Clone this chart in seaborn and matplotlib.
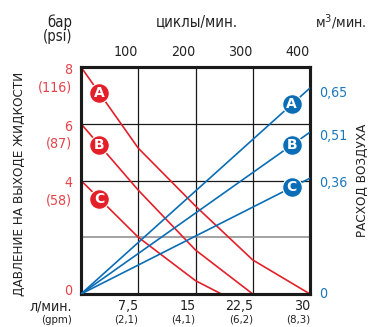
import numpy as np
import pandas as pd
import matplotlib
matplotlib.use("Agg")
import matplotlib.pyplot as plt
import matplotlib.transforms as mtransforms
from matplotlib import font_manager as fm
import seaborn as sns

# ---------------- data ----------------
flow_ticks = [7.5, 15, 22.5, 30]
flow_labels = ["7,5", "15", "22,5", "30"]
gpm_labels = ["(2,1)", "(4,1)", "(6,2)", "(8,3)"]
cycle_labels = ["100", "200", "300", "400"]

pump_names = ["A", "B", "C"]
flow_A = [0, 7.5, 15, 22.5, 30]
press_A = [8, 5.14, 3.1, 1.2, 0]
flow_B = [0, 7.5, 15, 22.5]
press_B = [6, 3.66, 1.55, 0]
flow_C = [0, 7.5, 15, 18.4]
press_C = [4, 2.0, 0.47, 0]

air_flow = [0, 30]
air_A = [0, 0.667]
air_B = [0, 0.524]
air_C = [0, 0.375]

press_ticks = [8, 6, 4]
press_tick_labels = ["8\n(116)", "6\n(87)", "4\n(58)"]
air_ticks = [0.65, 0.51, 0.36, 0]
air_tick_labels = ["0,65", "0,51", "0,36", "0"]

# ---------------- style ----------------
sns.set_style("white")
plt.rcParams["font.family"] = ["DejaVu Sans"]


def pick_condensed():
    files = fm.findSystemFonts()
    prefs = ["LiberationSansNarrow-Regular", "DejaVuSansCondensed.ttf",
             "OpenSans_Condensed", "OpenSansCondensed", "RobotoCondensed-Regular",
             "Roboto_Condensed", "NotoSans-Condensed.ttf", "NotoSansCondensed"]
    for p in prefs:
        for f in files:
            base = f.split("/")[-1]
            if p.lower() in base.lower() and "bold" not in base.lower() \
                    and "italic" not in base.lower() and "oblique" not in base.lower():
                return fm.FontProperties(fname=f), True
    return fm.FontProperties(family="DejaVu Sans"), False


FP, CONDENSED = pick_condensed()
FS = 10.2 if CONDENSED else 8.6


def T(size=None):
    p = FP.copy()
    p.set_size(FS if size is None else size)
    return p


RED = "#e3202a"
RED_T = "#e5424a"
BLUE = "#0a6db5"
BLUE_T = "#1b78bd"
TXT = "#222222"

fig = plt.figure(figsize=(3.69, 3.27), dpi=100)
ax = fig.add_axes([81 / 369, 33 / 327, 229 / 369, 227 / 327])
ax2 = ax.twinx()

red_df = pd.concat([
    pd.DataFrame({"flow": flow_A, "p": press_A, "pump": "A"}),
    pd.DataFrame({"flow": flow_B, "p": press_B, "pump": "B"}),
    pd.DataFrame({"flow": flow_C, "p": press_C, "pump": "C"}),
])
blue_df = pd.concat([
    pd.DataFrame({"flow": air_flow, "q": air_A, "pump": "A"}),
    pd.DataFrame({"flow": air_flow, "q": air_B, "pump": "B"}),
    pd.DataFrame({"flow": air_flow, "q": air_C, "pump": "C"}),
])

ax.set_xlim(0, 30)
ax.set_ylim(0, 8)
ax2.set_ylim(0, 0.735)

# grid
for x in [7.5, 15, 22.5]:
    ax.axvline(x, color="#1a1a1a", lw=0.9, zorder=1)
for y in [4, 6]:
    ax.axhline(y, color="#1a1a1a", lw=0.9, zorder=1)
ax.axhline(2, color="#8a8a8a", lw=1.1, zorder=1)

sns.lineplot(data=red_df, x="flow", y="p", units="pump", estimator=None,
             color=RED, lw=1.2, ax=ax, sort=False, zorder=3)
sns.lineplot(data=blue_df, x="flow", y="q", units="pump", estimator=None,
             color=BLUE, lw=1.2, ax=ax2, sort=False, zorder=3)

ax.set_xlabel("")
ax.set_ylabel("")
ax2.set_ylabel("")
ax.set_xticks([])
ax.set_yticks([])
ax2.set_yticks([])

for a in (ax, ax2):
    for s in a.spines.values():
        s.set_visible(True)
        s.set_color("#1a1a1a")
        s.set_linewidth(2.2)

# markers on red curves
red_sets = [(flow_A, press_A), (flow_B, press_B), (flow_C, press_C)]
for name, (fx, py) in zip(pump_names, red_sets):
    mx = 2.4
    my = np.interp(mx, fx, py)
    ax.scatter([mx], [my], s=200, color=RED, edgecolor="white", lw=0.8,
               zorder=5, clip_on=False)
    ax.text(mx, my, name, color="white", fontsize=10, fontweight="bold",
            ha="center", va="center", zorder=6, family="DejaVu Sans")

# markers on blue lines
for name, qy in zip(pump_names, [air_A, air_B, air_C]):
    mx = 27.6
    my = np.interp(mx, air_flow, qy)
    ax2.scatter([mx], [my], s=200, color=BLUE, edgecolor="white", lw=0.8,
                zorder=5, clip_on=False)
    ax2.text(mx, my, name, color="white", fontsize=10, fontweight="bold",
             ha="center", va="center", zorder=6, family="DejaVu Sans")

# left pressure labels
tr_left = mtransforms.blended_transform_factory(fig.transFigure, ax.transData)
for v, lab in zip(press_ticks, press_tick_labels):
    ax.annotate(lab, xy=(72 / 369, v), xycoords=tr_left, xytext=(0, 3),
                textcoords="offset points", ha="right", va="top",
                color=RED_T, fontproperties=T(), linespacing=1.3,
                annotation_clip=False)
ax.text(72 / 369, 0.1, "0", transform=tr_left, ha="right", va="center",
        color=RED_T, fontproperties=T())

# right air labels
tr_right = mtransforms.blended_transform_factory(fig.transFigure, ax2.transData)
for v, lab in zip(air_ticks, air_tick_labels):
    ax2.text(319 / 369, v, lab, transform=tr_right, ha="left", va="center",
             color=BLUE_T, fontproperties=T())

# bottom labels
tr_bot = mtransforms.blended_transform_factory(ax.transData, fig.transFigure)
row1 = 1 - 306 / 327
row2 = 1 - 320 / 327
for v, l1, l2 in zip(flow_ticks, flow_labels, gpm_labels):
    fig.text(v, row1, l1, transform=tr_bot, ha="right", va="center",
             color=TXT, fontproperties=T())
    fig.text(v, row2, l2, transform=tr_bot, ha="right", va="center",
             color=TXT, fontproperties=T(size=FS - 2))
fig.text(72 / 369, row1, "л/мин.", ha="right", va="center",
         color=TXT, fontproperties=T())
fig.text(72 / 369, row2, "(gpm)", ha="right", va="center",
         color=TXT, fontproperties=T(size=FS - 2))

# top labels
for v, lab in zip(flow_ticks, cycle_labels):
    fig.text(v, 1 - 52 / 327, lab, transform=tr_bot, ha="right", va="center",
             color=TXT, fontproperties=T())
fig.text(197 / 369, 1 - 22 / 327, "циклы/мин.", ha="center", va="center",
         color=TXT, fontproperties=T(size=FS + 0.5))
fig.text(72 / 369, 1 - 22 / 327, "бар", ha="right", va="center",
         color=TXT, fontproperties=T(size=FS + 0.5))
fig.text(72 / 369, 1 - 37 / 327, "(psi)", ha="right", va="center",
         color=TXT, fontproperties=T(size=FS + 0.5))
fig.text(315 / 369, 1 - 22 / 327, "м$^3$/мин.", ha="left", va="center",
         color=TXT, fontproperties=T(size=FS))

# axis titles
fig.text(19 / 369, 1 - 184 / 327, "ДАВЛЕНИЕ НА ВЫХОДЕ ЖИДКОСТИ", rotation=90,
         ha="center", va="center", color=TXT, fontproperties=T(size=FS - 0.6))
fig.text(362 / 369, 1 - 180 / 327, "РАСХОД ВОЗДУХА", rotation=90,
         ha="center", va="center", color=TXT, fontproperties=T(size=FS - 0.6))

fig.savefig("out.png", dpi=100)
